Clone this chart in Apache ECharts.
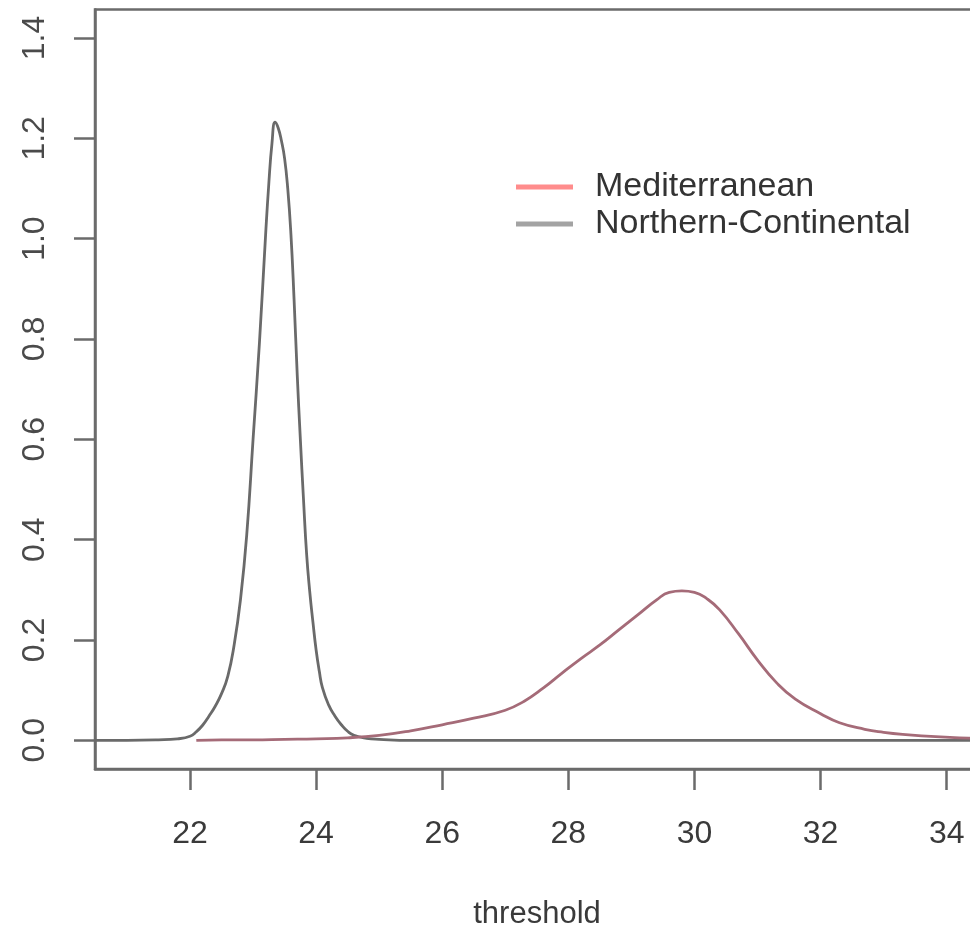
<!DOCTYPE html>
<html>
<head>
<meta charset="utf-8">
<script src="https://cdn.jsdelivr.net/npm/echarts@6/dist/echarts.min.js"></script>
<style>
html,body{margin:0;padding:0;background:#fff;overflow:hidden;}
#chart{width:980px;height:932px;position:absolute;left:0;top:0;}
</style>
</head>
<body>
<div id="chart"></div>
<script>
// Northern-Continental density (x, y)
const northX = [20.5, 21.0, 21.5, 21.8, 22.0, 22.1, 22.2, 22.3, 22.4, 22.5, 22.6, 22.7, 22.8, 22.9, 23.0, 23.1, 23.2, 23.25, 23.3, 23.35, 23.4, 23.45, 23.5, 23.55, 23.6, 23.65, 23.7, 23.75, 23.8, 23.85, 23.9, 23.95, 24.0, 24.05, 24.1, 24.2, 24.3, 24.4, 24.5, 24.6, 24.8, 25.0, 25.5, 26.0, 28.0, 30.0, 32.0, 34.5];
const northY = [0.0, 0.0, 0.001, 0.003, 0.008, 0.017, 0.030, 0.048, 0.068, 0.093, 0.128, 0.190, 0.280, 0.410, 0.600, 0.790, 1.010, 1.110, 1.190, 1.232, 1.220, 1.195, 1.160, 1.100, 1.010, 0.880, 0.730, 0.600, 0.480, 0.370, 0.295, 0.235, 0.180, 0.138, 0.105, 0.070, 0.048, 0.031, 0.018, 0.010, 0.004, 0.002, 0.0, 0.0, 0.0, 0.0, 0.0, 0.0];
// Mediterranean density (x, y)
const medX = [22.1, 22.5, 23.0, 23.5, 24.0, 24.5, 25.0, 25.5, 26.0, 26.5, 27.0, 27.3, 27.6, 27.9, 28.2, 28.5, 28.8, 29.1, 29.4, 29.6, 29.8, 30.0, 30.2, 30.4, 30.7, 31.0, 31.3, 31.6, 32.0, 32.3, 32.7, 33.0, 33.3, 33.9, 34.5];
const medY = [0.0, 0.001, 0.001, 0.002, 0.003, 0.005, 0.010, 0.019, 0.031, 0.044, 0.060, 0.078, 0.104, 0.134, 0.163, 0.190, 0.220, 0.250, 0.280, 0.295, 0.298, 0.295, 0.282, 0.260, 0.212, 0.160, 0.115, 0.082, 0.053, 0.035, 0.022, 0.016, 0.012, 0.007, 0.004];
const xTicks = [22, 24, 26, 28, 30, 32, 34];
const yTicks = [0, 0.2, 0.4, 0.6, 0.8, 1.0, 1.2, 1.4];
const seriesNames = ['Mediterranean', 'Northern-Continental'];

const zip = (xs, ys) => xs.map((x, i) => [x, ys[i]]);
const font = '"Liberation Sans", Arial, sans-serif';
const chart = echarts.init(document.getElementById('chart'), null, {renderer: 'canvas'});
chart.setOption({
  animation: false,
  backgroundColor: '#ffffff',
  grid: {
    left: 95, top: 9.5, right: 1, bottom: 163,
    containLabel: false, outerBoundsMode: 'none',
    show: true, borderColor: '#6b6b6b', borderWidth: 2.5, backgroundColor: 'transparent'
  },
  legend: {
    orient: 'vertical',
    left: 511, top: 163.5,
    icon: 'rect',
    itemWidth: 57, itemHeight: 5, itemGap: 0,
    textStyle: {fontFamily: font, fontSize: 34, color: '#333', lineHeight: 37, padding: [0, 0, 0, 17]},
    data: [
      {name: seriesNames[0], itemStyle: {color: '#ff8c8c'}},
      {name: seriesNames[1], itemStyle: {color: '#a3a3a3'}}
    ]
  },
  xAxis: {
    type: 'value',
    min: 20.4935, max: 34.512,
    name: 'threshold', nameLocation: 'middle', nameGap: 130,
    nameTextStyle: {fontFamily: font, fontSize: 31, color: '#3a3a3a'},
    axisLine: {show: true, onZero: false, lineStyle: {color: '#6b6b6b', width: 2.5}},
    axisTick: {show: true, length: 21, customValues: xTicks, lineStyle: {color: '#6b6b6b', width: 2.5}},
    axisLabel: {customValues: xTicks, margin: 49, fontFamily: font, fontSize: 32, color: '#3a3a3a'},
    splitLine: {show: false}
  },
  yAxis: {
    type: 'value',
    min: -0.0572, max: 1.4568,
    axisLine: {show: true, onZero: false, lineStyle: {color: '#6b6b6b', width: 2.5}},
    axisTick: {show: true, length: 21, customValues: yTicks, lineStyle: {color: '#6b6b6b', width: 2.5}},
    axisLabel: {customValues: yTicks, rotate: 90, margin: 44, fontFamily: font, fontSize: 32, color: '#4a4a4a',
      formatter: v => v.toFixed(1)},
    splitLine: {show: false}
  },
  series: [
    {
      name: seriesNames[1], type: 'line', data: zip(northX, northY),
      smooth: 0.5, showSymbol: false, symbol: 'none',
      lineStyle: {color: '#6a6a6a', width: 2.8}, itemStyle: {color: '#6a6a6a'}
    },
    {
      name: seriesNames[0], type: 'line', data: zip(medX, medY),
      smooth: 0.5, showSymbol: false, symbol: 'none',
      lineStyle: {color: '#a56b78', width: 2.8}, itemStyle: {color: '#a56b78'}
    }
  ]
});
</script>
</body>
</html>
